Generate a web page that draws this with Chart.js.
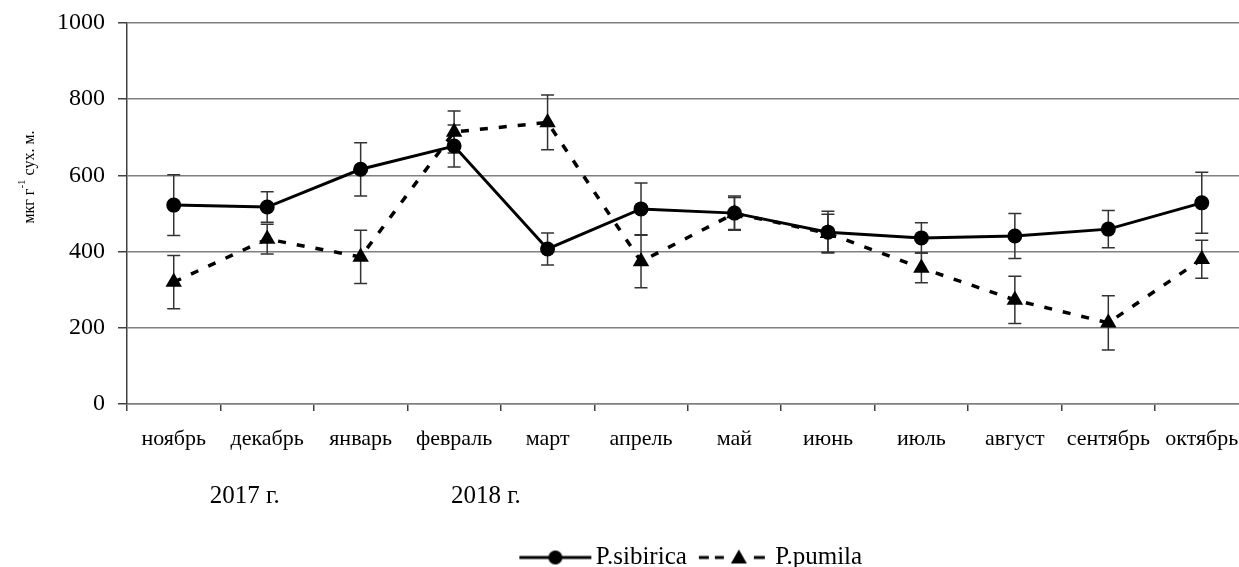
<!DOCTYPE html>
<html>
<head>
<meta charset="utf-8">
<script src="https://cdn.jsdelivr.net/npm/chart.js@4.4.1/dist/chart.umd.min.js"></script>
<style>
  html, body { margin: 0; padding: 0; background: #fff; overflow: hidden; }
  #wrap { width: 1258px; height: 567px; }
</style>
</head>
<body>
<div id="wrap"><canvas id="chart" width="1258" height="567"></canvas></div>
<script>
const months = ["ноябрь", "декабрь", "январь", "февраль", "март", "апрель", "май", "июнь", "июль", "август", "сентябрь", "октябрь"];
const sibirica = [522, 517, 616, 677, 407, 512, 501, 451, 436, 441, 459, 528];
const sibiricaErr = [80, 40, 70, 55, 42, 68, 45, 55, 40, 59, 49, 80];
const pumila = [320, 433, 386, 714, 739, 374, 500, 448, 357, 273, 213, 380];
const pumilaErr = [70, 39, 70, 55, 72, 69, 42, 50, 39, 62, 71, 50];
const yTicks = [0, 200, 400, 600, 800, 1000];
const yearLabels = ["2017 г.", "2018 г."];
const yearPos = [0.76, 3.34];

const FONT = "'Liberation Serif', 'Times New Roman', serif";
const errors = [sibiricaErr, pumilaErr];

// legend icons: line + marker drawn on small canvases
function makeIcon(dashed) {
  const c = document.createElement("canvas");
  c.width = 100; c.height = 20;
  const g = c.getContext("2d");
  g.strokeStyle = "#000"; g.fillStyle = "#000"; g.lineWidth = 3;
  if (!dashed) {
    g.beginPath(); g.moveTo(21, 10); g.lineTo(93, 10); g.stroke();
    g.beginPath(); g.arc(57, 10, 7, 0, Math.PI * 2); g.fill();
  } else {
    [[21, 31], [37, 46], [76, 87]].forEach(([a, b]) => {
      g.beginPath(); g.moveTo(a, 10); g.lineTo(b, 10); g.stroke();
    });
    g.beginPath(); g.moveTo(61, 2); g.lineTo(69, 16); g.lineTo(53, 16); g.closePath(); g.fill();
  }
  return c;
}
const legendIcons = [makeIcon(false), makeIcon(true)];

const extras = {
  id: "extras",
  beforeDatasetsDraw(chart) {
    const { ctx, scales: { x, y } } = chart;
    ctx.save();
    ctx.strokeStyle = "#333";
    ctx.lineWidth = 1.5;
    chart.data.datasets.forEach((ds, i) => {
      ds.data.forEach((v, j) => {
        const px = x.getPixelForValue(j);
        const top = y.getPixelForValue(v + errors[i][j]);
        const bot = y.getPixelForValue(v - errors[i][j]);
        ctx.beginPath();
        ctx.moveTo(px, top); ctx.lineTo(px, bot);
        ctx.moveTo(px - 6.5, top); ctx.lineTo(px + 6.5, top);
        ctx.moveTo(px - 6.5, bot); ctx.lineTo(px + 6.5, bot);
        ctx.stroke();
      });
    });
    ctx.restore();
  },
  afterDraw(chart) {
    const { ctx, scales: { x } } = chart;
    ctx.save();
    ctx.fillStyle = "#000";
    ctx.textAlign = "center";
    ctx.textBaseline = "middle";
    ctx.font = "25px " + FONT;
    yearLabels.forEach((t, i) => ctx.fillText(t, x.getPixelForValue(yearPos[i]), 496));

    // y axis title with superscript
    ctx.translate(28, 177);
    ctx.rotate(-Math.PI / 2);
    ctx.textAlign = "left";
    ctx.textBaseline = "alphabetic";
    ctx.font = "16px " + FONT;
    const p1 = "мкг г", p3 = " сух. м.";
    const w1 = ctx.measureText(p1).width, w3 = ctx.measureText(p3).width;
    ctx.font = "11px " + FONT;
    const w2 = ctx.measureText("-1").width;
    let sx = -(w1 + w2 + w3) / 2;
    ctx.font = "16px " + FONT;
    ctx.fillText(p1, sx, 6);
    ctx.font = "11px " + FONT;
    ctx.fillText("-1", sx + w1, -3);
    ctx.font = "16px " + FONT;
    ctx.fillText(p3, sx + w1 + w2, 6);
    ctx.restore();
  }
};

new Chart(document.getElementById("chart"), {
  type: "line",
  data: {
    labels: months,
    datasets: [{
      label: "P.sibirica",
      data: sibirica,
      borderColor: "#000",
      backgroundColor: "#000",
      borderWidth: 3,
      pointStyle: "circle",
      pointRadius: 7.5,
      pointBackgroundColor: "#000",
      pointBorderWidth: 0,
      tension: 0
    }, {
      label: "P.pumila",
      data: pumila,
      borderColor: "#000",
      backgroundColor: "#000",
      borderWidth: 3.5,
      borderDash: [8, 11],
      pointStyle: "triangle",
      pointRadius: 9.5,
      pointBackgroundColor: "#000",
      pointBorderWidth: 0,
      tension: 0
    }]
  },
  options: {
    responsive: false,
    animation: false,
    layout: { padding: { left: 44, top: 23, right: 1, bottom: -13 } },
    plugins: {
      tooltip: { enabled: false },
      legend: {
        position: "bottom",
        fullSize: false,
        labels: {
          usePointStyle: true,
          pointStyleWidth: 70,
          padding: 6,
          color: "#000",
          font: { family: FONT, size: 25 },
          generateLabels: (chart) => chart.data.datasets.map((ds, i) => ({
            text: ds.label,
            pointStyle: legendIcons[i],
            datasetIndex: i,
            fontColor: "#000",
            hidden: false,
            lineWidth: 0
          }))
        }
      }
    },
    scales: {
      x: {
        offset: true,
        afterFit: (scale) => { scale.height = 135; },
        grid: {
          offset: true,
          drawOnChartArea: false,
          drawTicks: true,
          tickLength: 7,
          tickColor: "#404040",
          lineWidth: 1.5
        },
        border: { color: "#808080", width: 1.5 },
        ticks: {
          color: "#000",
          padding: 15,
          maxRotation: 0,
          autoSkip: false,
          font: { family: FONT, size: 22 }
        }
      },
      y: {
        min: 0,
        max: 1000,
        afterBuildTicks: (scale) => { scale.ticks = yTicks.map(v => ({ value: v })); },
        afterFit: (scale) => { scale.paddingTop = 0; scale.paddingBottom = 0; },
        grid: {
          color: "#808080",
          lineWidth: 1.5,
          tickLength: 9,
          tickColor: "#404040"
        },
        border: { color: "#404040", width: 1.5 },
        ticks: {
          color: "#000",
          padding: 13,
          font: { family: FONT, size: 24 },
          callback: (v) => String(v)
        }
      }
    }
  },
  plugins: [extras]
});
</script>
</body>
</html>
